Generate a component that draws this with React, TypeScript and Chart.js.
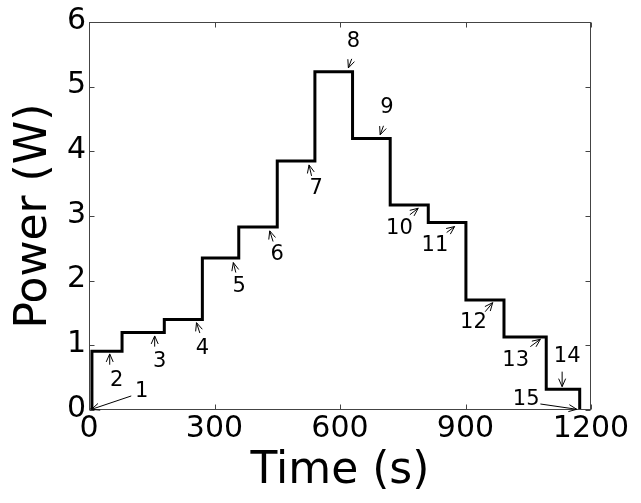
import React, { useEffect, useRef } from "react";
import { Chart, registerables } from "chart.js";

Chart.register(...registerables);

// Step start times (s) and the power level (W) held from that time on
const stepTimes = [0, 7, 79, 180, 271, 358, 450, 540, 630, 720, 811, 901, 992, 1093, 1173];
const powerLevels = [0, 0.91, 1.2, 1.4, 2.35, 2.83, 3.85, 5.23, 4.2, 3.17, 2.9, 1.7, 1.13, 0.32, 0];

const xTickValues = [0, 300, 600, 900, 1200];
const yTickValues = [0, 1, 2, 3, 4, 5, 6];

// Annotation labels (data coordinates)
const labelNames = ["1", "2", "3", "4", "5", "6", "7", "8", "9", "10", "11", "12", "13", "14", "15"];
const labelTime = [126, 66, 169, 271, 359, 450, 543, 632, 712, 742, 827, 919, 1020, 1143, 1045];
const labelPower = [0.29, 0.46, 0.75, 0.955, 1.91, 2.4, 3.42, 5.7, 4.67, 2.81, 2.55, 1.35, 0.77, 0.825, 0.165];
const arrowTailTime = [101, 49.5, 157, 265, 351, 440, 532, 628, 704, 767, 855, 947, 1055, 1131, 1079];
const arrowTailPower = [0.217, 0.7, 0.98, 1.19, 2.125, 2.605, 3.62, 5.43, 4.395, 3.02, 2.745, 1.52, 0.98, 0.593, 0.093];
const arrowTipTime = [6, 49.5, 157, 257, 345, 432, 526, 620, 696, 787, 874, 965, 1079, 1131, 1166];
const arrowTipPower = [0.01, 0.867, 1.145, 1.35, 2.28, 2.77, 3.79, 5.29, 4.256, 3.12, 2.837, 1.66, 1.094, 0.361, 0.011];

const FONT = "'DejaVu Sans', 'Liberation Sans', sans-serif";

const framePlugin = {
  id: "frameAndAnnotations",
  afterDatasetsDraw(chart: any) {
    const { ctx, chartArea, scales } = chart;
    const { left, right, top, bottom } = chartArea;
    const xs = scales.x;
    const ys = scales.y;
    ctx.save();
    // frame
    ctx.strokeStyle = "#444";
    ctx.lineWidth = 1;
    const L = Math.round(left) + 0.5;
    const R = Math.round(right) - 0.5;
    const T = Math.round(top) + 0.5;
    const B = Math.round(bottom) - 0.5;
    ctx.strokeRect(L, T, R - L, B - T);
    // inward ticks on all sides
    const tl = 5;
    ctx.beginPath();
    xs.ticks.forEach((t: any) => {
      const px = Math.round(xs.getPixelForValue(t.value)) + 0.5;
      ctx.moveTo(px, B);
      ctx.lineTo(px, B - tl);
      ctx.moveTo(px, T);
      ctx.lineTo(px, T + tl);
    });
    ys.ticks.forEach((t: any) => {
      const py = Math.round(ys.getPixelForValue(t.value)) + 0.5;
      ctx.moveTo(L, py);
      ctx.lineTo(L + tl, py);
      ctx.moveTo(R, py);
      ctx.lineTo(R - tl, py);
    });
    ctx.stroke();

    // annotations
    ctx.strokeStyle = "#000";
    ctx.fillStyle = "#000";
    ctx.lineWidth = 1;
    ctx.font = `21px ${FONT}`;
    ctx.textAlign = "center";
    ctx.textBaseline = "middle";
    for (let i = 0; i < labelNames.length; i++) {
      const tx = xs.getPixelForValue(labelTime[i]);
      const ty = ys.getPixelForValue(labelPower[i]);
      ctx.fillText(labelNames[i], tx, ty);
      const ax = xs.getPixelForValue(arrowTailTime[i]);
      const ay = ys.getPixelForValue(arrowTailPower[i]);
      const bx = xs.getPixelForValue(arrowTipTime[i]);
      const by = ys.getPixelForValue(arrowTipPower[i]);
      const ang = Math.atan2(by - ay, bx - ax);
      const hl = 8;
      const hw = 3.5;
      const ux = Math.cos(ang);
      const uy = Math.sin(ang);
      ctx.beginPath();
      ctx.moveTo(ax, ay);
      ctx.lineTo(bx, by);
      ctx.moveTo(bx - ux * hl - uy * hw, by - uy * hl + ux * hw);
      ctx.lineTo(bx, by);
      ctx.lineTo(bx - ux * hl + uy * hw, by - uy * hl - ux * hw);
      ctx.stroke();
    }
    ctx.restore();
  },
};

export default function App() {
  const ref = useRef<HTMLCanvasElement | null>(null);
  useEffect(() => {
    if (!ref.current) return;
    const points = stepTimes.map((t, i) => ({ x: t, y: powerLevels[i] }));
    const chart = new Chart(ref.current, {
      type: "line",
      data: {
        datasets: [
          {
            data: points,
            borderColor: "#000",
            borderWidth: 3,
            pointRadius: 0,
            stepped: "before",
            fill: false,
            tension: 0,
          },
        ],
      },
      options: {
        animation: false,
        responsive: false,
        devicePixelRatio: 1,
        events: [],
        layout: { padding: { top: 22, right: 50, left: 0, bottom: 0 } },
        plugins: {
          legend: { display: false },
          tooltip: { enabled: false },
          title: { display: false },
        },
        scales: {
          x: {
            type: "linear",
            min: 0,
            max: 1200,
            afterBuildTicks: (s: any) => {
              s.ticks = xTickValues.map((v) => ({ value: v }));
            },
            afterFit: (s: any) => {
              s.height = 93;
            },
            grid: { display: false, drawTicks: false },
            border: { display: false },
            ticks: {
              color: "#000",
              padding: 1,
              maxRotation: 0,
              callback: (v: any) => String(v),
              font: { family: FONT, size: 30, lineHeight: 1.2 },
            },
            title: {
              display: true,
              text: "Time (s)",
              color: "#000",
              font: { family: FONT, size: 44, lineHeight: 1.2 },
              padding: { top: 0, bottom: 5 },
            },
          },
          y: {
            type: "linear",
            min: 0,
            max: 6,
            afterBuildTicks: (s: any) => {
              s.ticks = yTickValues.map((v) => ({ value: v }));
            },
            afterFit: (s: any) => {
              s.width = 89;
            },
            grid: { display: false, drawTicks: false },
            border: { display: false },
            ticks: {
              color: "#000",
              padding: 3,
              labelOffset: -1,
              callback: (v: any) => String(v),
              font: { family: FONT, size: 30, lineHeight: 1.2 },
            },
            title: {
              display: true,
              text: "Power (W)",
              color: "#000",
              font: { family: FONT, size: 44, lineHeight: 1.2 },
              padding: { top: 8, bottom: 0 },
            },
          },
        },
      },
      plugins: [framePlugin],
    });
    return () => chart.destroy();
  }, []);
  return (
    <div style={{ position: "absolute", left: 0, top: 0, width: 641, height: 503, background: "#fff" }}>
      <canvas ref={ref} width={641} height={503} style={{ display: "block" }} />
    </div>
  );
}
